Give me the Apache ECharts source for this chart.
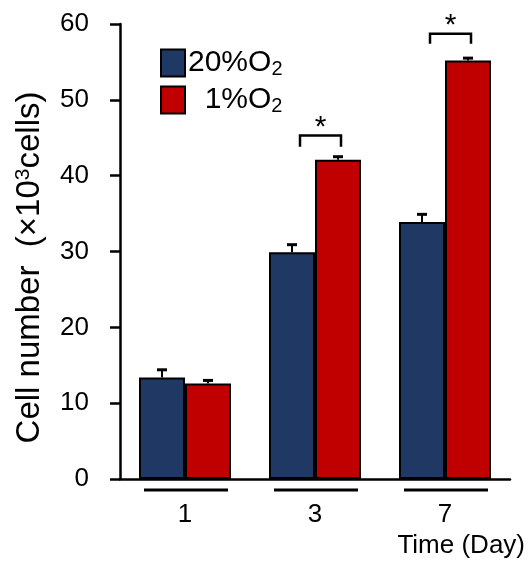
<!DOCTYPE html>
<html>
<head>
<meta charset="utf-8">
<script src="https://cdn.jsdelivr.net/npm/echarts@6/dist/echarts.min.js"></script>
<style>html,body{margin:0;padding:0;background:#fff}#c{width:529px;height:562px}</style>
</head>
<body>
<div id="c"></div>
<script>
var categories = ['1', '3', '7'];
var seriesNames = ['20%O2', '1%O2'];
var mean20 = [13.4, 29.9, 33.9];
var err20 = [1.0, 1.0, 1.0];
var mean1 = [12.6, 42.1, 55.2];
var err1 = [0.4, 0.4, 0.3];
// significance brackets: category index, bracket top value, leg bottom value
var sigCats = [1, 2];
var sigTop = [45.3, 58.7];
var sigLeg = [43.8, 57.4];
var yTicks = [0, 10, 20, 30, 40, 50, 60];

var BAR_W = 46;
var FONT = 'Liberation Sans, Arial, sans-serif';
var chart = echarts.init(document.getElementById('c'));

function errData(m, e) { return m.map(function (v, i) { return [i, v, e[i]]; }); }

function errRender(sign) {
  return function (params, api) {
    var i = api.value(0), m = api.value(1), e = api.value(2);
    var p0 = api.coord([i, m]);
    var p1 = api.coord([i, m + e]);
    var x = p0[0] + sign * BAR_W / 2;
    return {
      type: 'group',
      children: [
        { type: 'line', shape: { x1: x, y1: p0[1], x2: x, y2: p1[1] }, style: { stroke: '#000', lineWidth: 2 } },
        { type: 'line', shape: { x1: x - 5, y1: p1[1], x2: x + 5, y2: p1[1] }, style: { stroke: '#000', lineWidth: 3 } }
      ]
    };
  };
}

var sigData = sigCats.map(function (c, k) { return [c, sigTop[k], sigLeg[k]]; });

chart.setOption({
  animation: false,
  textStyle: { fontFamily: FONT },
  grid: { left: 120, right: 19, top: 24, bottom: 83, containLabel: false },
  legend: {
    left: 160, top: 48, padding: 0, orient: 'vertical', itemWidth: 24, itemHeight: 27, itemGap: 6,
    itemStyle: { borderColor: '#000', borderWidth: 2 },
    icon: 'rect',
    data: seriesNames,
    formatter: function (n) { return n === '20%O2' ? '20%O{sub|2}' : '  1%O{sub|2}'; },
    textStyle: {
      fontSize: 30, color: '#000', fontFamily: FONT, padding: [0, 0, 0, -2],
      rich: { sub: { fontSize: 20, verticalAlign: 'bottom', padding: [12, 0, 0, 0], fontFamily: FONT, color: '#000' } }
    }
  },
  title: {
    text: 'Time (Day)', right: 4, top: 533, padding: 0,
    textStyle: { fontSize: 26, fontWeight: 'normal', color: '#000', fontFamily: FONT }
  },
  xAxis: {
    type: 'category', data: categories,
    axisLine: { lineStyle: { color: '#000', width: 2.5 } },
    axisTick: { show: false },
    axisLabel: { fontSize: 26, color: '#000', margin: 23, fontFamily: FONT }
  },
  yAxis: {
    type: 'value', min: 0, max: 60, interval: 10,
    axisLine: { show: true, lineStyle: { color: '#000', width: 2.5 } },
    axisTick: { show: true, length: 10, lineStyle: { color: '#000', width: 2.5 } },
    splitLine: { show: false },
    axisLabel: { fontSize: 26, color: '#000', margin: 31, fontFamily: FONT,
      customValues: yTicks },
    name: 'Cell number  (×10{sup|3}cells)',
    nameLocation: 'middle', nameGap: 73,
    nameTextStyle: { fontSize: 33, color: '#000', fontFamily: FONT, padding: [0, 32, 0, 0],
      rich: { sup: { fontSize: 21, verticalAlign: 'top', padding: [0, 0, 13, 0], fontFamily: FONT, color: '#000' } } }
  },
  series: [
    { name: '20%O2', type: 'bar', data: mean20, barWidth: BAR_W, barGap: '0%',
      itemStyle: { color: '#1f3864', borderColor: '#000', borderWidth: 2 } },
    { name: '1%O2', type: 'bar', data: mean1, barWidth: BAR_W, barGap: '0%',
      itemStyle: { color: '#c00000', borderColor: '#000', borderWidth: 2 } },
    { type: 'custom', data: errData(mean20, err20), renderItem: errRender(-1), z: 5, silent: true },
    { type: 'custom', data: errData(mean1, err1), renderItem: errRender(1), z: 5, silent: true },
    { type: 'custom', data: sigData, z: 6, silent: true,
      renderItem: function (params, api) {
        var i = api.value(0);
        var pt = api.coord([i, api.value(1)]);
        var pl = api.coord([i, api.value(2)]);
        var x1 = pt[0] - 15, x2 = pt[0] + 26;
        return {
          type: 'group',
          children: [
            { type: 'polyline', shape: { points: [[x1, pl[1]], [x1, pt[1]], [x2, pt[1]], [x2, pl[1]]] },
              style: { stroke: '#000', lineWidth: 2.5, fill: null } },
            { type: 'text', x: (x1 + x2) / 2, y: pt[1] + 7,
              style: { text: '*', fontSize: 30, fontFamily: FONT, fill: '#000', align: 'center', verticalAlign: 'bottom' } }
          ]
        };
      }
    },
    { type: 'custom', data: categories.map(function (c, i) { return [i, 0]; }), z: 6, silent: true, clip: false,
      renderItem: function (params, api) {
        var p = api.coord([api.value(0), 0]);
        var y = p[1] + 11;
        return { type: 'line', shape: { x1: p[0] - 41, y1: y, x2: p[0] + 43, y2: y },
          style: { stroke: '#000', lineWidth: 3 } };
      }
    }
  ]
});
</script>
</body>
</html>
